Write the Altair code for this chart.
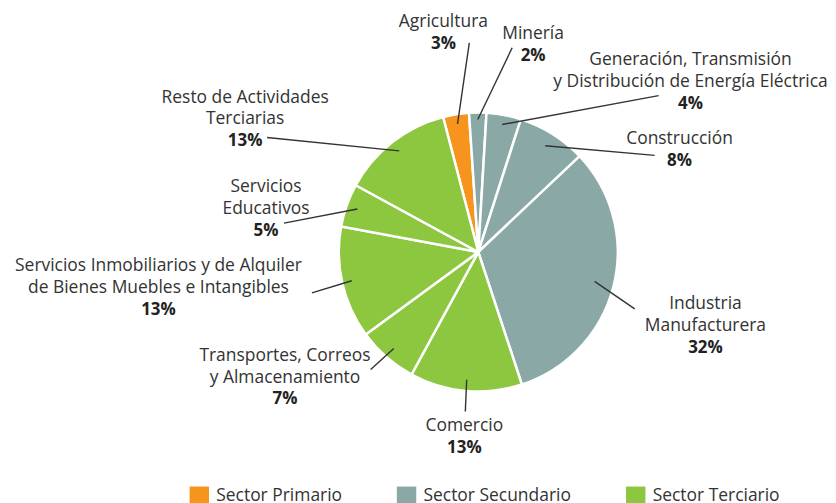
import math
import altair as alt
import pandas as pd

# ---- data ----
activities = ["Agricultura", "Minería", "Generación", "Construcción",
              "Industria Manufacturera", "Comercio", "Transportes",
              "Servicios Inmobiliarios", "Servicios Educativos", "Resto"]
label_lines = [
    "Agricultura",
    "Minería",
    "Generación, Transmisión\ny Distribución de Energía Eléctrica",
    "Construcción",
    "Industria\nManufacturera",
    "Comercio",
    "Transportes, Correos\ny Almacenamiento",
    "Servicios Inmobiliarios y de Alquiler\nde Bienes Muebles e Intangibles",
    "Servicios\nEducativos",
    "Resto de Actividades\nTerciarias",
]
shares = [3, 2, 4, 8, 32, 13, 7, 13, 5, 13]
sectors = ["Sector Primario"] + ["Sector Secundario"] * 4 + ["Sector Terciario"] * 5
sector_names = ["Sector Primario", "Sector Secundario", "Sector Terciario"]
sector_colors = ["#F7941D", "#8AA9A6", "#8DC63F"]

# ---- layout (styles / annotation placement, plot-area pixels) ----
W, H = 820, 487
CX, CY, R = 472, 244, 140
START = 2 * math.pi - 0.255          # first slice starts a bit left of 12 o'clock
LINE_H = 22
FONT = "Open Sans"
FS = 17.5
# label anchor (centre of the percentage line)
label_pos = [(437, 35), (527, 47), (685, 95), (674, 153), (700, 340),
             (458, 441), (278, 392), (151, 302), (259, 223), (238, 133)]
# outer end of leader line
leader_end = [(463, 34), (506, 39), (653, 87), (649, 147), (629, 301),
              (459, 404), (364, 362), (305, 285), (277, 215), (260, 129)]
leader_r = [0.93, 0.95, 0.93, 0.9, 0.86, 0.92, 0.92, 0.93, 0.92, 0.92]

df = pd.DataFrame({
    "activity": activities,
    "value": shares,
    "sector": sectors,
    "order": list(range(len(shares))),
})

total = sum(shares)
cum = 0
rows = []
for i, v in enumerate(shares):
    mid = START + (cum + v / 2) / total * 2 * math.pi
    cum += v
    rr = leader_r[i] * R
    n = label_lines[i].count("\n") + 1
    lx, ly = label_pos[i]
    rows.append({
        "activity": activities[i],
        "x1": CX + rr * math.sin(mid), "y1": CY - rr * math.cos(mid),
        "x2": leader_end[i][0], "y2": leader_end[i][1],
        "lx": lx, "py": ly,
        "ny": ly - LINE_H * n,
        "name": label_lines[i],
        "pct": f"{v}%",
    })
ann = pd.DataFrame(rows)

pie = alt.Chart(df).mark_arc(radius=R, stroke="white", strokeWidth=2.5).encode(
    theta=alt.Theta("value:Q", stack=True,
                    scale=alt.Scale(range=[START, START + 2 * math.pi])),
    order=alt.Order("order:Q"),
    color=alt.Color(
        "sector:N",
        scale=alt.Scale(domain=sector_names, range=sector_colors),
        legend=alt.Legend(
            title=None, orient="none", legendX=182, legendY=479,
            direction="horizontal", symbolType="square", symbolSize=380,
            symbolStrokeWidth=0, labelFont=FONT, labelFontSize=FS,
            labelColor="#333333", columnPadding=54, labelOffset=7, padding=0,
            labelLimit=300,
        ),
    ),
    x=alt.value(CX),
    y=alt.value(CY),
)

leaders = alt.Chart(ann).mark_rule(color="#333333", strokeWidth=1.4).encode(
    x=alt.X("x1:Q", scale=None), y=alt.Y("y1:Q", scale=None),
    x2="x2:Q", y2="y2:Q",
)

names = alt.Chart(ann).mark_text(
    font=FONT, fontSize=FS, color="#333333", align="center",
    baseline="middle", lineBreak="\n", lineHeight=LINE_H,
).encode(
    x=alt.X("lx:Q", scale=None), y=alt.Y("ny:Q", scale=None), text="name:N",
)

pcts = alt.Chart(ann).mark_text(
    font=FONT, fontSize=17, fontWeight="bold", color="#222222",
    align="center", baseline="middle",
).encode(
    x=alt.X("lx:Q", scale=None), y=alt.Y("py:Q", scale=None), text="pct:N",
)

chart = alt.layer(pie, leaders, names, pcts).properties(
    width=W, height=H, padding=0,
).configure_view(stroke=None)

chart.save("out.html", embed_options={"renderer": "svg", "actions": False})
